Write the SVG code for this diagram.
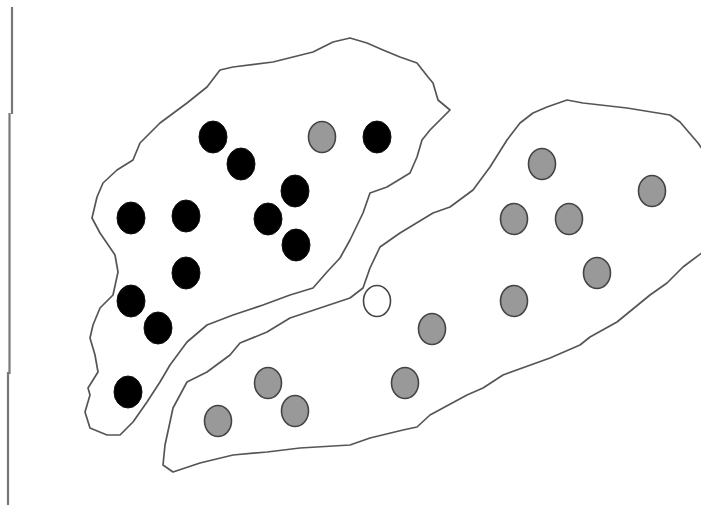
<svg xmlns="http://www.w3.org/2000/svg" width="701" height="510" viewBox="0 0 701 510">
<style>
.outline{fill:none;stroke:#555;stroke-width:1.7;stroke-linejoin:round}
.axis{fill:none;stroke:#777;stroke-width:2.2}
.b{fill:#000;stroke:#111;stroke-width:1}
.g{fill:#999;stroke:#444;stroke-width:1.6}
.w{fill:#fff;stroke:#444;stroke-width:1.6}
</style>
<rect width="701" height="510" fill="#fff"/>
<g id="axis">
<line class="axis" x1="12" y1="7" x2="12" y2="114"/>
<line class="axis" x1="9.5" y1="113" x2="9.5" y2="374"/>
<line class="axis" x1="8" y1="372" x2="8" y2="505"/>
</g>
<g id="cluster-left">
<polygon class="outline" points="350,38 333,42 313,52 273,62 233,67 220,70 207,87 187,103 160,123 140,143 133,160 117,170 103,183 97,197 92,218 100,233 113,252 115,255 118,272 113,295 100,308 93,325 90,338 95,355 98,372 88,388 90,395 85,412 90,428 107,435 120,435 133,422 147,402 160,382 170,365 187,342 207,325 233,315 263,305 290,295 313,288 327,272 340,258 350,240 363,213 370,193 387,187 410,173 417,157 422,140 430,130 440,120 450,110 438,100 433,83 428,77 417,63 400,57 383,50 367,43"/>
</g>
<g id="cluster-right">
<polygon class="outline" points="380,247 400,233 433,213 450,207 473,190 490,167 507,140 520,123 533,113 547,107 567,100 583,103 627,108 670,115 680,122 698,143 703,150 703,252 683,267 667,283 650,295 617,322 590,337 580,345 550,358 503,375 483,388 467,395 430,415 417,427 403,430 370,438 350,445 300,448 267,452 233,455 200,463 173,472 163,465 165,445 170,422 173,408 180,395 187,382 207,372 230,355 240,343 267,332 290,318 320,308 350,298 363,288 370,268"/>
</g>
<g id="black-points">
<ellipse class="b" cx="213" cy="137" rx="14" ry="16"/>
<ellipse class="b" cx="241" cy="164" rx="14" ry="16"/>
<ellipse class="b" cx="295" cy="191" rx="14" ry="16"/>
<ellipse class="b" cx="131" cy="218" rx="14" ry="16"/>
<ellipse class="b" cx="186" cy="216" rx="14" ry="16"/>
<ellipse class="b" cx="268" cy="219" rx="14" ry="16"/>
<ellipse class="b" cx="296" cy="245" rx="14" ry="16"/>
<ellipse class="b" cx="377" cy="137" rx="14" ry="16"/>
<ellipse class="b" cx="186" cy="273" rx="14" ry="16"/>
<ellipse class="b" cx="131" cy="301" rx="14" ry="16"/>
<ellipse class="b" cx="158" cy="328" rx="14" ry="16"/>
<ellipse class="b" cx="128" cy="392" rx="14" ry="16"/>
</g>
<g id="gray-points">
<ellipse class="g" cx="322" cy="137" rx="13.5" ry="15.5"/>
<ellipse class="g" cx="542" cy="164" rx="13.5" ry="15.5"/>
<ellipse class="g" cx="652" cy="191" rx="13.5" ry="15.5"/>
<ellipse class="g" cx="514" cy="219" rx="13.5" ry="15.5"/>
<ellipse class="g" cx="569" cy="219" rx="13.5" ry="15.5"/>
<ellipse class="g" cx="597" cy="273" rx="13.5" ry="15.5"/>
<ellipse class="g" cx="514" cy="301" rx="13.5" ry="15.5"/>
<ellipse class="g" cx="432" cy="329" rx="13.5" ry="15.5"/>
<ellipse class="g" cx="405" cy="383" rx="13.5" ry="15.5"/>
<ellipse class="g" cx="268" cy="383" rx="13.5" ry="15.5"/>
<ellipse class="g" cx="295" cy="411" rx="13.5" ry="15.5"/>
<ellipse class="g" cx="218" cy="421" rx="13.5" ry="15.5"/>
</g>
<g id="white-point">
<ellipse class="w" cx="377" cy="301" rx="13.5" ry="15.5"/>
</g>
</svg>
